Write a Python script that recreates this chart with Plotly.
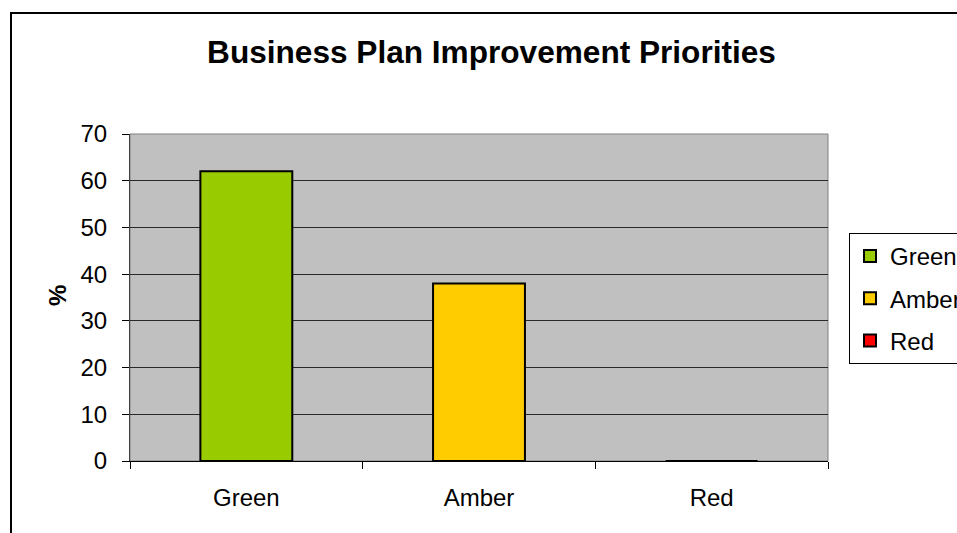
import plotly.graph_objects as go

categories = ["Green", "Amber", "Red"]
values = [62, 38, 0]
colors = ["#99CC00", "#FFCC00", "#FF0000"]
y_ticks = [0, 10, 20, 30, 40, 50, 60, 70]

W, H = 957, 533
L, R, T, B = 130, 129, 134, 72
pw, ph = W - L - R, H - T - B

fig = go.Figure()
for cat, val, col in zip(categories, values, colors):
    fig.add_trace(go.Bar(
        x=[cat], y=[val], name=cat, legendgroup=cat,
        marker=dict(color=col, line=dict(color="#000000", width=2)),
    ))

font_family = "Liberation Sans, Arial, sans-serif"

def px_x(p):
    return (p - L) / pw

def px_y(p):
    return (H - B - p) / ph

fig.update_layout(
    width=W, height=H,
    margin=dict(l=L, r=R, t=T, b=B, autoexpand=False),
    paper_bgcolor="#FFFFFF",
    plot_bgcolor="#C0C0C0",
    barmode="overlay",
    bargap=0.605,
    font=dict(family=font_family, size=24, color="#000000"),
    title=dict(text="<b>Business Plan Improvement Priorities</b>",
               x=491.5 / W, xref="container", xanchor="center",
               y=1 - 52 / H, yref="container", yanchor="middle",
               font=dict(size=31.6, family=font_family, color="#000000")),
    xaxis=dict(categoryorder="array", categoryarray=categories,
               showgrid=False, showline=True, linecolor="#000000", linewidth=1,
               ticks="outside", tickson="boundaries", ticklen=7, tickcolor="#000000",
               ticklabelstandoff=15, zeroline=False, layer="above traces"),
    yaxis=dict(range=[0, 70], tickvals=y_ticks, showgrid=True, gridcolor="#2a2a2a",
               gridwidth=1, showline=True, linecolor="#404040", linewidth=1,
               ticks="outside", ticklen=7, tickcolor="#000000",
               ticklabelstandoff=10, zeroline=False),
    legend=dict(x=px_x(849), xanchor="left", y=px_y(233), yanchor="top",
                bordercolor="#000000", borderwidth=1, bgcolor="#FFFFFF",
                tracegroupgap=8, font=dict(size=24, family=font_family),
                traceorder="grouped", itemwidth=30),
    showlegend=True,
    annotations=[dict(text="<b>%</b>", x=px_x(57), y=px_y(296), xref="paper", yref="paper",
                      textangle=-90, showarrow=False, xanchor="center", yanchor="middle",
                      font=dict(size=24, family=font_family))],
    shapes=[
        dict(type="rect", xref="paper", yref="paper", x0=0, x1=1, y0=0, y1=1,
             line=dict(color="#808080", width=1), layer="below"),
        dict(type="rect", xref="paper", yref="paper",
             x0=px_x(11), x1=px_x(970), y0=px_y(545), y1=px_y(13),
             line=dict(color="#000000", width=2)),
    ],
)

fig.write_html("out.html")
